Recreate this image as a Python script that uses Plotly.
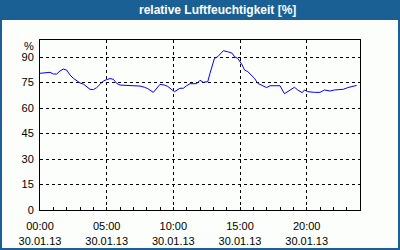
import plotly.graph_objects as go

day = "2013-01-30"
times = ["00:00","00:30","00:45","01:00","01:15","01:30","01:45","02:00","02:15","02:30",
         "02:45","03:00","03:15","03:30","03:45","04:00","04:15","04:30","04:45","05:00",
         "05:15","05:30","05:45","06:00","06:30","07:00","07:30","07:50","08:05","08:30",
         "08:45","09:00","09:20","09:35","09:55","10:05","10:30","10:45","11:00","11:15",
         "11:45","12:00","12:15","12:35","12:45","12:55","13:05","13:20","13:40","13:45",
         "14:05","14:25","14:35","14:50","15:10","15:20","15:35","15:55","16:05","16:20",
         "16:40","17:00","17:15","17:45","18:00","18:20","18:35","19:05","19:20","19:40",
         "19:50","20:05","20:35","21:00","21:20","21:45","22:05","22:45","23:05","23:30",
         "23:45"]
humidity = [80.4,81.0,81.0,80.0,80.0,81.8,82.9,82.3,79.4,77.5,
            75.9,74.7,74.1,72.7,71.0,70.8,72.0,73.9,75.9,76.7,
            77.3,76.9,74.5,73.5,73.3,73.1,72.9,72.2,71.4,69.2,
            71.6,73.9,73.5,72.7,70.6,69.6,71.6,71.6,73.1,74.3,
            74.3,76.3,75.1,75.5,80.4,85.3,89.2,90.2,93.1,93.7,
            93.1,92.2,90.2,89.2,85.3,82.4,81.4,78.4,77.5,74.5,
            73.1,72.0,73.1,73.3,73.1,68.4,69.6,72.2,70.6,69.0,
            70.6,69.6,69.2,69.2,70.6,70.0,70.6,71.0,72.0,73.1,
            73.3]

x_tick_hours = ["00:00","05:00","10:00","15:00","20:00"]
x_tick_date = "30.01.13"
y_ticks = [0, 15, 30, 45, 60, 75, 90]

title_text = "relative Luftfeuchtigkeit [%]"
unit_text = "%"

BLUE = "#1b6094"
BG = "#fcfefc"

xs = [f"{day} {t}" for t in times]

fig = go.Figure()
fig.add_trace(go.Scatter(x=xs, y=humidity, mode="lines",
                         line=dict(color="#0000ff", width=1), hoverinfo="skip"))

W, H = 400, 250
L, R, T, B = 40, 40, 40, 40
pw, ph = W - L - R, H - T - B

def px_x(p):
    return (p - L) / pw

def px_y(p):
    return (H - B - p) / ph

shapes = [
    dict(type="rect", xref="paper", yref="paper", x0=px_x(0), x1=px_x(400), y0=px_y(20), y1=px_y(0),
         fillcolor=BLUE, line=dict(width=0), layer="above"),
    dict(type="rect", xref="paper", yref="paper", x0=px_x(0), x1=px_x(2), y0=px_y(250), y1=px_y(20),
         fillcolor=BLUE, line=dict(width=0), layer="above"),
    dict(type="rect", xref="paper", yref="paper", x0=px_x(398), x1=px_x(400), y0=px_y(250), y1=px_y(20),
         fillcolor=BLUE, line=dict(width=0), layer="above"),
    dict(type="rect", xref="paper", yref="paper", x0=px_x(0), x1=px_x(400), y0=px_y(250), y1=px_y(248),
         fillcolor=BLUE, line=dict(width=0), layer="above"),
]

annotations = [
    dict(text=f"<b>{title_text}</b>", xref="paper", yref="paper", x=px_x(217), y=px_y(10),
         xanchor="center", yanchor="middle", showarrow=False,
         font=dict(family="Liberation Sans", size=12, color="white")),
    dict(text=unit_text, xref="paper", yref="paper", x=px_x(36), y=px_y(46),
         xanchor="right", yanchor="middle", showarrow=False,
         font=dict(family="Liberation Sans", size=11, color="black")),
]

fig.update_layout(
    width=W, height=H,
    margin=dict(l=L, r=R, t=T, b=B, pad=0, autoexpand=False),
    paper_bgcolor=BG, plot_bgcolor=BG,
    showlegend=False,
    shapes=shapes, annotations=annotations,
    font=dict(family="Liberation Sans", size=11, color="black"),
)

fig.update_xaxes(
    type="date",
    range=[f"{day} 00:00", "2013-01-31 00:00"],
    tickvals=[f"{day} {h}" for h in x_tick_hours],
    ticktext=[f"{h}<br>{x_tick_date}" for h in x_tick_hours],
    showgrid=True, gridcolor="black", gridwidth=1, griddash="3px,3px",
    showline=True, linecolor="black", linewidth=1, mirror=True,
    ticks="inside", ticklen=3, tickcolor="black",
    ticklabelstandoff=6, automargin=False,
    minor=dict(dtick=3600000, tick0=f"{day} 00:00", ticks="inside", ticklen=3,
               tickcolor="black", showgrid=False),
    zeroline=False, fixedrange=True,
)
fig.update_yaxes(
    range=[0, 100],
    tickvals=y_ticks,
    showgrid=True, gridcolor="black", gridwidth=1, griddash="3px,3px",
    showline=True, linecolor="black", linewidth=1, mirror=True,
    ticks="", ticklabelstandoff=3, automargin=False,
    zeroline=False, fixedrange=True,
)

fig.write_html("out.html", config={"displayModeBar": False})
